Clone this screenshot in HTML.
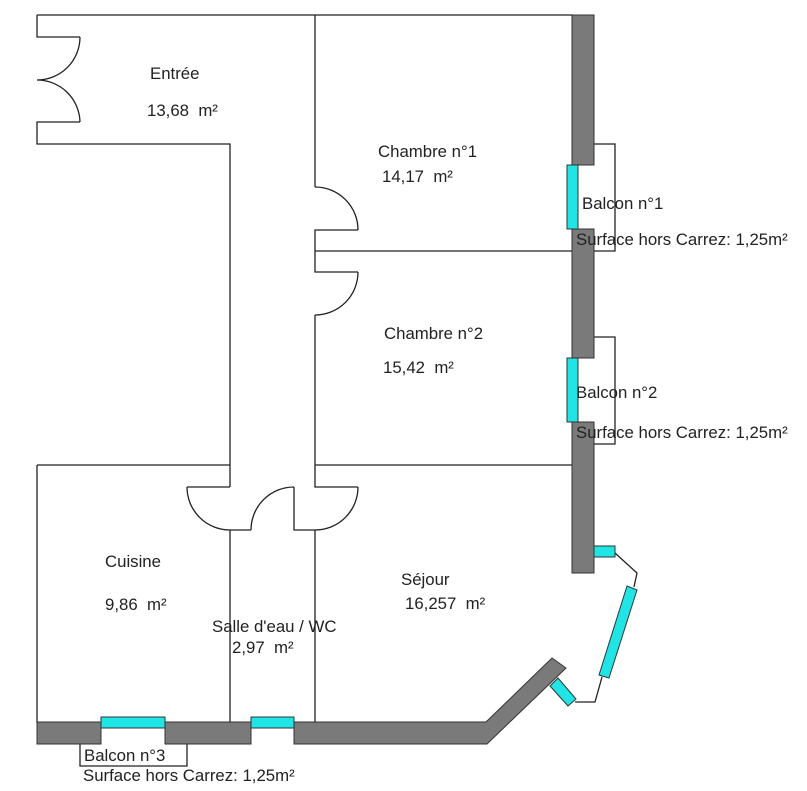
<!DOCTYPE html>
<html><head><meta charset="utf-8"><style>
html,body{margin:0;padding:0;background:#fff;}
svg{display:block;}
text{font-family:"Liberation Sans",Arial,sans-serif;font-size:16.8px;fill:#222;white-space:pre;}
</style></head><body>
<svg width="807" height="791" viewBox="0 0 807 791" xmlns="http://www.w3.org/2000/svg" xml:space="preserve">
<g fill="none" stroke="#222" stroke-width="1.3">
<line x1="37" y1="15" x2="573" y2="15"/>
<polyline points="37,15 37,37 80,37"/>
<path d="M80,37 A43,43 0 0 1 37,80 A43,43 0 0 1 80,122"/>
<polyline points="80,122 37,122 37,144 230,144 230,487"/>
<polyline points="315,15 315,187"/>
<path d="M315,187 A43,43 0 0 1 358,230"/>
<polyline points="358,230 315,230 315,272 358,272"/>
<path d="M358,272 A43,43 0 0 1 315,315"/>
<polyline points="315,315 315,487 358,487"/>
<line x1="315" y1="251" x2="573" y2="251"/>
<line x1="315" y1="465" x2="573" y2="465"/>
<line x1="37" y1="465" x2="230" y2="465"/>
<polyline points="230,487 187,487"/>
<path d="M187,487 A43,43 0 0 0 230,530"/>
<polyline points="230,530 251,530"/>
<path d="M251,530 A43,43 0 0 1 294,487"/>
<polyline points="294,487 294,530 315,530"/>
<path d="M358,487 A43,43 0 0 1 315,530"/>
<line x1="230" y1="530" x2="230" y2="723"/>
<line x1="315" y1="530" x2="315" y2="723"/>
<line x1="37" y1="465" x2="37" y2="723"/>
<polyline points="594,144 615,144 615,251 594,251"/>
<polyline points="594,337 615,337 615,444 594,444"/>
<polyline points="80,744 80,766 187,766 187,744"/>
<polyline points="615,553 637,573 634,587"/>
<polyline points="602,677 595,702 575,702"/>
</g>
<g fill="#7a7a7a" stroke="#333" stroke-width="1">
<rect x="572" y="15" width="22" height="150"/>
<rect x="572" y="229" width="22" height="129"/>
<rect x="572" y="422" width="22" height="151"/>
<rect x="37" y="722" width="64" height="22"/>
<rect x="165" y="722" width="86" height="22"/>
<polygon points="294,722 486,722 552,658 566,668 487,744 294,744"/>
</g>
<g fill="#1fe6e6" stroke="#333" stroke-width="1">
<rect x="567" y="165" width="11" height="64"/>
<rect x="567" y="358" width="11" height="64"/>
<rect x="101" y="717" width="64" height="11"/>
<rect x="251" y="717" width="43" height="11"/>
<rect x="594" y="546" width="21" height="11"/>
<polygon points="627,586 637,590 609,678 599,675"/>
<polygon points="550,686 558,678 576,699 568,706"/>
</g>
<text x="150" y="79">Entrée</text>
<text x="147" y="116">13,68  m²</text>
<text x="378" y="157">Chambre n°1</text>
<text x="382" y="182">14,17  m²</text>
<text x="384" y="339">Chambre n°2</text>
<text x="383" y="373">15,42  m²</text>
<text x="582" y="209">Balcon n°1</text>
<text x="576" y="245">Surface hors Carrez: 1,25m²</text>
<text x="576" y="398">Balcon n°2</text>
<text x="576" y="438">Surface hors Carrez: 1,25m²</text>
<text x="105" y="567">Cuisine</text>
<text x="105" y="610">9,86  m²</text>
<text x="212" y="632">Salle d'eau / WC</text>
<text x="232" y="653">2,97  m²</text>
<text x="401" y="585">Séjour</text>
<text x="405" y="609">16,257  m²</text>
<text x="84" y="761">Balcon n°3</text>
<text x="83" y="781">Surface hors Carrez: 1,25m²</text>
</svg>
</body></html>
